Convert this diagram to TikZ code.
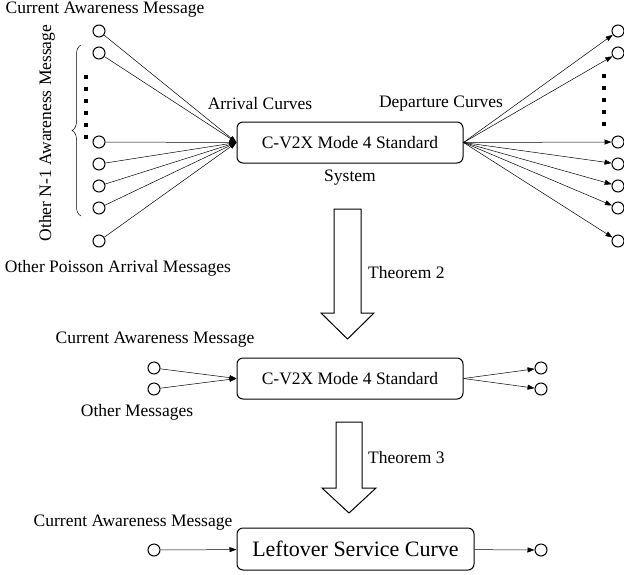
\documentclass[tikz,border=0pt]{standalone}
\usepackage{fontspec}
\setmainfont{LiberationSerif}[Extension=.ttf,UprightFont=*-Regular,BoldFont=*-Bold]
\usetikzlibrary{arrows.meta,decorations.pathreplacing}
\begin{document}
\begin{tikzpicture}[x=1pt,y=-1pt,
  msg/.style={circle,draw,line width=1pt,minimum size=12pt,inner sep=0pt},
  sysbox/.style={draw,line width=1pt,rounded corners=6pt,inner sep=0pt,
    minimum width=226pt,minimum height=41pt,font=\rmfamily\fontsize{17.5}{20}\selectfont},
  lbl/.style={font=\rmfamily\fontsize{17.5}{20}\selectfont,inner sep=0pt},
  flow/.style={line width=0.5pt,-{Triangle[length=7pt,width=5pt]}},
  bigarrow/.style={draw,line width=1pt,fill=white,line join=miter},
  dotcol/.style={line width=3.5pt,dash pattern=on 3.5pt off 8.5pt}]
\useasboundingbox (0,0) rectangle (624,574);

% ---------- top stage: full system ----------
\node[sysbox] (sys) at (350,142.5) {C-V2X Mode 4 Standard};

\foreach \i/\y in {1/31,2/53,3/142,4/164,5/186,6/208,7/241}{
  \node[msg] (in\i) at (99,\y) {};
  \node[msg] (out\i) at (618,\y) {};
  \draw[flow] (in\i) -- (sys.west);
  \draw[flow] (sys.east) -- (out\i);
}

% vertical ellipses between the awareness messages
\draw[dotcol] (86,75) -- (86,146);
\draw[dotcol] (604,74) -- (604,132);

% brace grouping the other awareness messages
\draw[line width=0.5pt,decorate,decoration={brace,amplitude=9pt}]
  (81,216) -- (81,45);
\node[lbl,rotate=90] (grp) at (47,133) {Other N-1 Awareness Message};

\node[lbl] (cur) at (105,10) {Current Awareness Message};
\node[lbl] (poi) at (118,268) {Other Poisson Arrival Messages};
\node[lbl] (arr) at (260,104) {Arrival Curves};
\node[lbl] (dep) at (441,104) {Departure Curves};
\node[lbl] (sysl) at (350,178) {System};

% ---------- reduction by Theorem 2 ----------
\draw[bigarrow] (334,209) -- (361,209) -- (361,313) -- (374,313) -- (347.5,339)
  -- (321,313) -- (334,313) -- cycle;
\node[lbl,anchor=west] (th2) at (368,273) {Theorem 2};

% ---------- middle stage: two flows ----------
\node[sysbox] (sys2) at (350,378.5) {C-V2X Mode 4 Standard};
\node[msg] (a1) at (154,368) {};
\node[msg] (a2) at (154,389) {};
\node[msg] (b1) at (541,368) {};
\node[msg] (b2) at (541,389) {};
\draw[flow] (a1) -- (sys2.west);
\draw[flow] (a2) -- (sys2.west);
\draw[flow] (sys2.east) -- (b1);
\draw[flow] (sys2.east) -- (b2);
\node[lbl] (cur2) at (155,340) {Current Awareness Message};
\node[lbl] (oth) at (137,412) {Other Messages};

% ---------- reduction by Theorem 3 ----------
\draw[bigarrow] (336,422) -- (362,422) -- (362,488) -- (376,488) -- (349,513)
  -- (322,488) -- (336,488) -- cycle;
\node[lbl,anchor=west] (th3) at (368,458) {Theorem 3};

% ---------- bottom stage: leftover service ----------
\node[sysbox,minimum width=237pt,minimum height=42pt,
  font=\rmfamily\fontsize{22}{24}\selectfont] (lsc) at (355.5,549) {Leftover Service Curve};
\node[msg] (c1) at (154,550) {};
\node[msg] (c2) at (541,550) {};
\draw[flow] (c1) -- (lsc);
\draw[flow] (lsc) -- (c2);
\node[lbl] (cur3) at (133,523) {Current Awareness Message};
\end{tikzpicture}
\end{document}
